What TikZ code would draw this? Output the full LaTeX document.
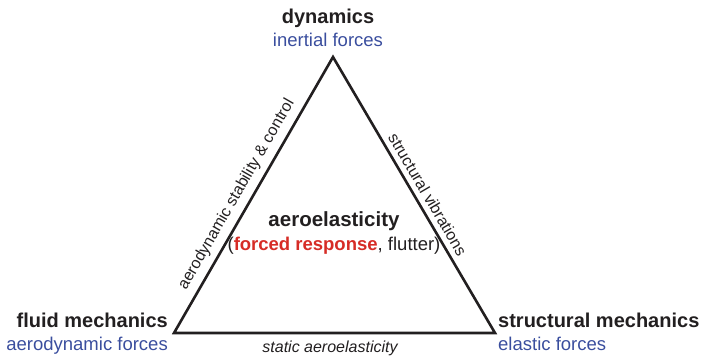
\documentclass[tikz,border=0pt]{standalone}
\usepackage{fontspec}
\setmainfont{Liberation Sans}
\usetikzlibrary{positioning}
\definecolor{forceblue}{RGB}{58,78,158}
\definecolor{forcered}{RGB}{214,44,38}
\definecolor{inkgray}{RGB}{34,31,32}

\begin{document}
\begin{tikzpicture}[x=1pt,y=1pt,
field/.style={font=\fontsize{20}{24}\selectfont\bfseries, text=inkgray, inner sep=0pt},
force/.style={font=\fontsize{18.5}{22}\selectfont, text=forceblue, inner sep=0pt},
edgelbl/.style={font=\fontsize{16}{19}\selectfont, text=inkgray, inner sep=0pt},
side/.style={line width=2.6pt, draw=inkgray, line join=miter}
]
\useasboundingbox (0,0) rectangle (703,357);

\coordinate (dyn) at (333,300);
\coordinate (fluid) at (174,24);
\coordinate (struct) at (495,24);

\draw[side] (fluid) -- node[edgelbl, sloped, pos=0.475, above=6pt] (stability) {aerodynamic stability \& control} (dyn)
  -- node[edgelbl, sloped, pos=0.52, above=5pt] (vibrations) {structural vibrations} (struct)
  -- (fluid) -- cycle;
\node[edgelbl, font=\fontsize{16}{19}\selectfont\itshape, anchor=base] (static) at (330,5) {static aeroelasticity};

\node[force, anchor=base] (inertial) at (328,310) {inertial forces};
\node[field, anchor=base] (dynamics) at ([yshift=24pt]inertial.base) {dynamics};

\node[field, anchor=base east] (fluidmech) at (168,30) {fluid mechanics};
\node[force, anchor=base east] (aeroforces) at (168,7) {aerodynamic forces};

\node[field, anchor=base west] (structmech) at (498,30) {structural mechanics};
\node[force, anchor=base west] (elastic) at (498,7) {elastic forces};

\node[field, font=\fontsize{20.5}{24}\selectfont\bfseries, anchor=base] (aeroel) at (334,131) {aeroelasticity};
\node[force, text=inkgray, anchor=base] (response) at (334,107) {(\textbf{\color{forcered}forced response}, flutter)};
\end{tikzpicture}
\end{document}
